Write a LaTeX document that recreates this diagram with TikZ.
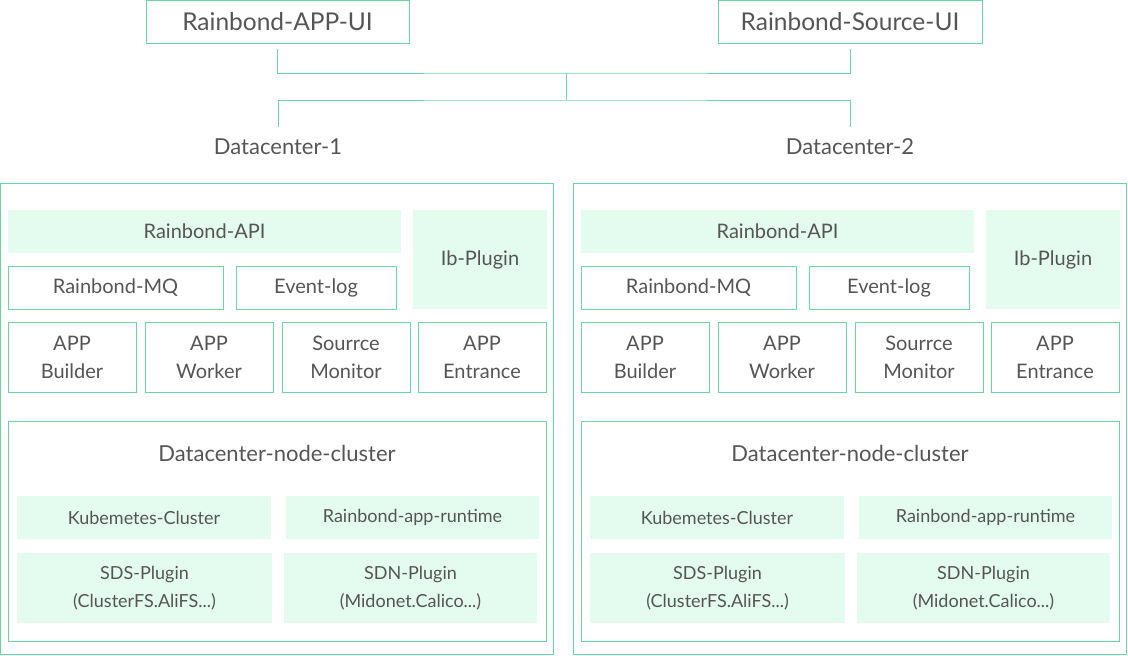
\documentclass[tikz,border=0pt]{standalone}
\usepackage{fontspec}
\setmainfont{Lato}
\definecolor{linegreen}{HTML}{6AD6A0}
\definecolor{mint}{HTML}{E3FCEF}
\definecolor{txtgray}{HTML}{555555}
\begin{document}
\begin{tikzpicture}[x=1pt,y=-1pt,
                    line box/.style={draw=linegreen,line width=1pt,inner sep=0pt,text=txtgray,align=center},
                    fill box/.style={fill=mint,inner sep=0pt,text=txtgray,align=center},
                    big text/.style={font=\fontsize{24.5}{29}\selectfont},
                    title text/.style={text=txtgray,font=\fontsize{22}{26}\selectfont,inner sep=0pt},
                    mid text/.style={font=\fontsize{20}{28}\selectfont},
                    small text/.style={font=\fontsize{18}{28}\selectfont},
                    link/.style={draw=linegreen,line width=1pt}
                   ]
  \useasboundingbox (0,0) rectangle (1128,656);

  \node[line box,big text,minimum width=263,minimum height=43] (appui) at (277.5,21.5) {Rainbond-APP-UI};
  \node[line box,big text,minimum width=264,minimum height=43] (srcui) at (850,21.5) {Rainbond-Source-UI};
  \coordinate (top) at (566,73);
  \coordinate (bot) at (566,100);
  \node[title text,minimum height=30] (dc1) at (278,147) {Datacenter-1};
  \node[title text,minimum height=30] (dc2) at (850,147) {Datacenter-2};

  \path[link,shorten <=5pt,shorten >=5pt] (appui.south) |- (top) -| (srcui.south);
  \path[link] (top) -- (bot);
  \path[link,shorten <=5pt,shorten >=5pt] (dc1.north) |- (bot) -| (dc2.north);

  \foreach \i/\dx in {1/0,2/573}{
    \node[line box,minimum width=553,minimum height=471] (dc box\i) at (\dx+277,419) {};
    \node[fill box,mid text,minimum width=393,minimum height=43] (api\i) at (\dx+204.5,231.5) {Rainbond-API};
    \node[fill box,mid text,minimum width=134,minimum height=99] (ib\i) at (\dx+480,259.5) {Ib-Plugin};
    \node[line box,mid text,minimum width=215,minimum height=43] (mq\i) at (\dx+115.5,287.5) {Rainbond-MQ};
    \node[line box,mid text,minimum width=160,minimum height=43] (event\i) at (\dx+316,287.5) {Event-log};
    \node[line box,mid text,minimum width=128,minimum height=70] (builder\i) at (\dx+72,357) {APP\\Builder};
    \node[line box,mid text,minimum width=128,minimum height=70] (worker\i) at (\dx+209,357) {APP\\Worker};
    \node[line box,mid text,minimum width=128,minimum height=70] (monitor\i) at (\dx+346,357) {Sourrce\\Monitor};
    \node[line box,mid text,minimum width=128,minimum height=70] (entrance\i) at (\dx+482,357) {APP\\Entrance};
    \node[line box,minimum width=538,minimum height=220] (cluster\i) at (\dx+277,531) {};
    \node[title text] (cluster label\i) at (\dx+277,453) {Datacenter-node-cluster};
    \node[fill box,small text,minimum width=254,minimum height=43] (kube\i) at (\dx+144,517.5) {Kubemetes-Cluster};
    \node[fill box,small text,minimum width=253,minimum height=43] (runtime\i) at (\dx+412.5,517.5) {Rainbond-app-runtime};
    \node[fill box,small text,minimum width=255,minimum height=70] (sds\i) at (\dx+144.5,588) {SDS-Plugin\\(ClusterFS.AliFS...)};
    \node[fill box,small text,minimum width=253,minimum height=70] (sdn\i) at (\dx+410.5,588) {SDN-Plugin\\(Midonet.Calico...)};
  }
\end{tikzpicture}
\end{document}
